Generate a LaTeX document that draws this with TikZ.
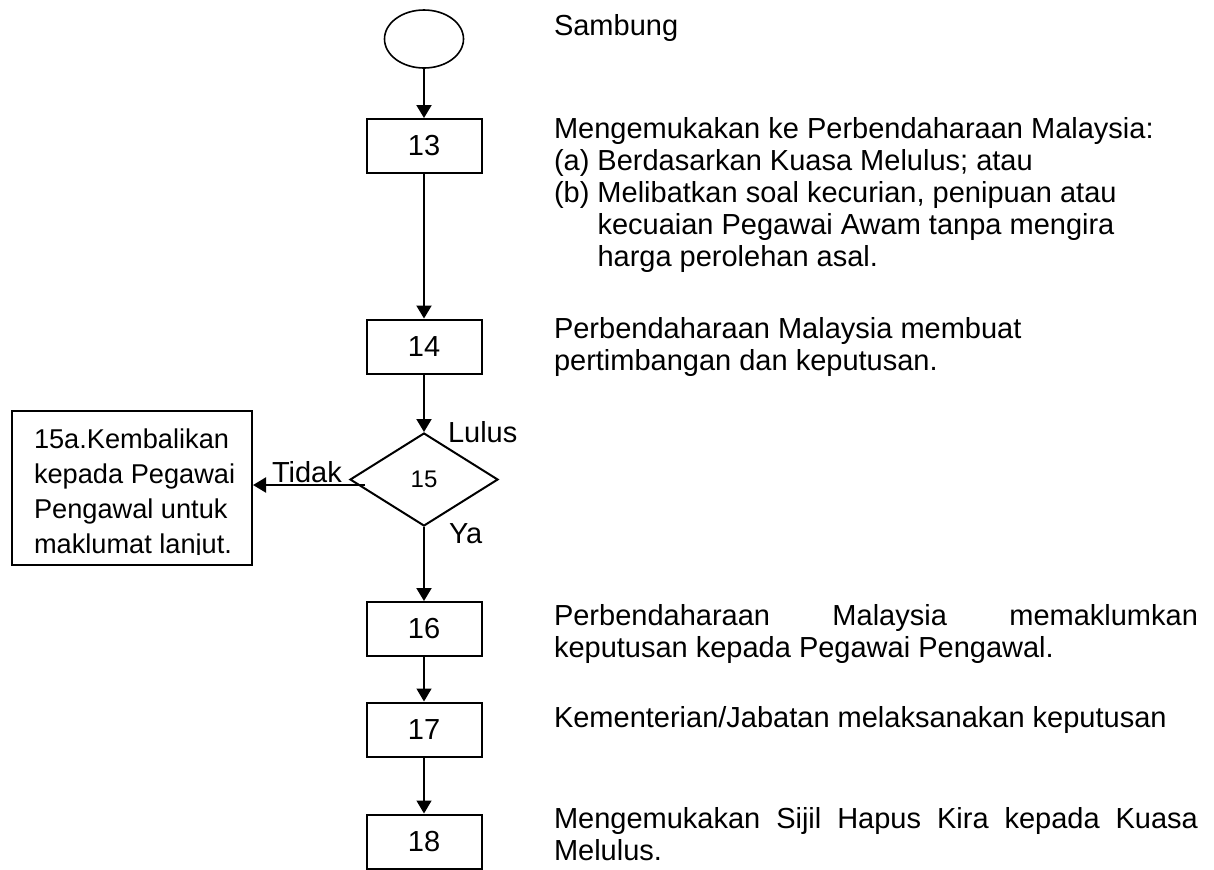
\documentclass[tikz,border=0pt]{standalone}
\usepackage{fontspec}
\setmainfont{Liberation Sans}
\usetikzlibrary{positioning,shapes.geometric,arrows.meta}
\hyphenpenalty=10000
\tolerance=10000
\tikzstyle{stepbox}=[draw,line width=1pt,minimum width=57.5pt,minimum height=27pt,inner sep=0pt]
\tikzstyle{note}=[anchor=base west,inner sep=0pt,align=flush left]
\newcommand{\langkah}[3]{\node[stepbox] (#1) at (#2) {#3};}
\newcommand{\nota}[4]{\node[note,#3] (#1) at (#2) {#4};}
\newcommand{\myarrow}[3]{\draw[->,#2] (#1) -- (#3);}

\begin{document}
\begin{tikzpicture}[x=0.5pt,y=-0.5pt,font=\fontsize{14.5}{16}\selectfont,
    >={Triangle[length=6.5pt,width=7.5pt]},line width=1pt]
    \useasboundingbox (0,0) rectangle (1214,869);
    % main column
    \node[draw,ellipse,line width=0.8pt,minimum width=39.5pt,minimum height=29pt,inner sep=0pt] (mula) at (424,39) {};
    \langkah{q13}{424,146}{13}
    \langkah{q14}{424,346.5}{14}
    \node[draw,diamond,minimum width=74pt,minimum height=46.5pt,inner sep=0pt,font=\fontsize{12}{14}\selectfont] (q15) at (424,479.5) {15};
    \langkah{q16}{424,629}{16}
    \langkah{q17}{424,729.5}{17}
    \langkah{q18}{424,841.5}{18}

    \myarrow{mula}{}{q13}
    \myarrow{q13}{}{q14}
    \myarrow{q14}{}{q15}
    \myarrow{q15}{}{q16}
    \myarrow{q16}{line width=0.7pt}{q17}
    \myarrow{q17}{line width=0.7pt}{q18}

    % tidak lulus
    \node[stepbox,minimum width=120pt,minimum height=77pt] (q15a) at (132,488) {};
    \begin{scope}
        \clip (q15a.north west) rectangle (252,554);
        \nota{t15a}{33,448}{text width=110pt,font=\fontsize{13.6}{17.5}\selectfont}{15a.Kembalikan\\kepada Pegawai\\Pengawal untuk\\maklumat lanjut.}
    \end{scope}
    \coordinate (tdk) at (365,485);
    \draw[->] (tdk) -- (tdk -| q15a.east);
    \nota{lulus}{447,442}{}{Lulus}
    \nota{ya}{448,543}{}{Ya}
    \nota{tidak}{271,482}{}{Tidak}

    % keterangan
    \nota{n0}{553,35}{}{Sambung}
    \nota{n13}{553,138}{text width=322pt}{Mengemukakan ke Perbendaharaan Malaysia:\\(a) Berdasarkan Kuasa Melulus; atau\\(b) Melibatkan soal kecurian, penipuan atau\\\phantom{(b)~}kecuaian Pegawai Awam tanpa mengira\\\phantom{(b)~}harga perolehan asal.}
    \nota{n14}{553,338}{text width=322pt}{Perbendaharaan Malaysia membuat\\pertimbangan dan keputusan.}
    \nota{n16}{553,625}{text width=322pt,align=justify}{Perbendaharaan Malaysia memaklumkan\linebreak keputusan kepada Pegawai Pengawal.}
    \nota{n17}{553,727}{}{Kementerian/Jabatan melaksanakan keputusan}
    \nota{n18}{553,828}{text width=322pt,align=justify}{Mengemukakan Sijil Hapus Kira kepada Kuasa\linebreak Melulus.}
\end{tikzpicture}
\end{document}
